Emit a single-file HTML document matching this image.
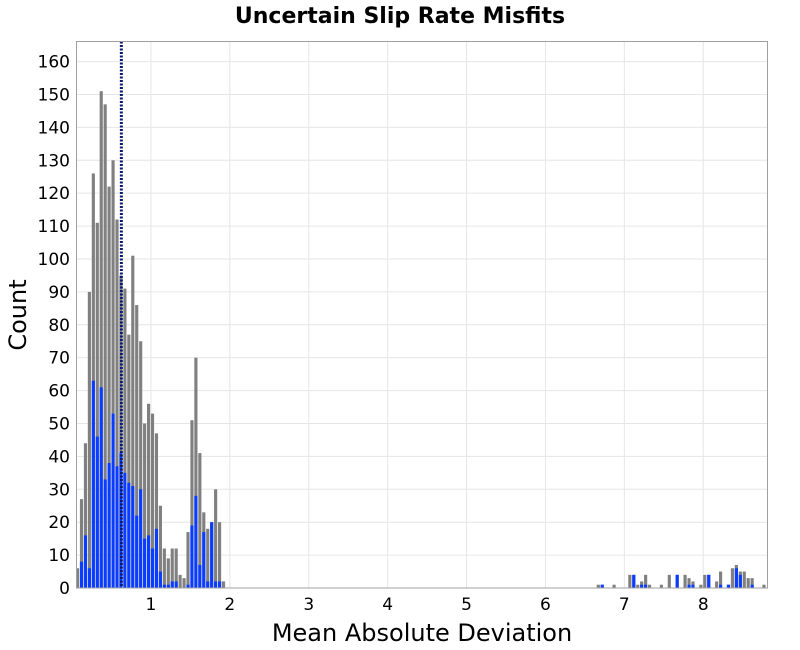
<!DOCTYPE html>
<html><head><meta charset="utf-8"><style>
body{margin:0;background:#fff;}
svg{display:block;font-family:"DejaVu Sans","Liberation Sans",sans-serif;}
</style></head><body>
<svg id="chart" width="800" height="650">
<text x="400" y="23" text-anchor="middle" font-size="22" font-weight="bold">Uncertain Slip Rate Misfits</text>
<g id="grid"></g><g id="bars"></g><g id="axes"></g>
<text x="422" y="641" text-anchor="middle" font-size="24">Mean Absolute Deviation</text>
<text transform="translate(26,315) rotate(-90)" text-anchor="middle" font-size="24">Count</text>
</svg>
<script>
const binStarts = [0.05,0.10,0.15,0.20,0.25,0.30,0.35,0.40,0.45,0.50,0.55,0.60,0.65,0.70,0.75,0.80,0.85,0.90,0.95,1.00,1.05,1.10,1.15,1.20,1.25,1.30,1.35,1.40,1.45,1.50,1.55,1.60,1.65,1.70,1.75,1.80,1.85,1.90,
6.65,6.70,6.85,7.05,7.10,7.15,7.20,7.25,7.30,7.45,7.55,7.65,7.75,7.80,7.85,7.95,8.00,8.05,8.15,8.20,8.30,8.35,8.40,8.45,8.50,8.55,8.60,8.75];
const grayCounts = [6,27,44,90,126,111,151,147,122,130,112,95,91,77,101,86,75,50,56,53,47,25,12,9,12,12,4,3,17,51,70,41,23,18,20,30,20,2,
1,1,1,4,4,1,2,4,1,1,4,4,4,3,2,1,4,4,2,5,1,6,7,5,5,3,3,1];
const blueCounts = [0,8,16,6,63,46,61,33,38,53,37,41,35,32,31,22,30,15,16,12,18,5,1,1,2,2,0,0,1,19,28,7,17,2,20,2,2,0,
0,1,0,0,4,0,1,1,0,0,0,4,0,1,1,0,0,4,0,1,1,0,6,4,0,0,1,0];
const binWidth = 0.05;
const meanLine = 0.625;
const xTicks = [1,2,3,4,5,6,7,8];
const yTicks = [0,10,20,30,40,50,60,70,80,90,100,110,120,130,140,150,160];

const NS="http://www.w3.org/2000/svg";
const L=76.5,R=767.5,T=41.5,B=588;
const xMin=0.0565,xMax=8.8145,yMax=166.1;
const X=v=>L+(v-xMin)/(xMax-xMin)*(R-L);
const Y=v=>B-v/yMax*(B-T);
function mk(tag,attrs,parent){const e=document.createElementNS(NS,tag);for(const k in attrs)e.setAttribute(k,attrs[k]);parent.appendChild(e);return e;}
const grid=document.getElementById('grid'),bars=document.getElementById('bars'),axes=document.getElementById('axes');
xTicks.forEach(t=>{
  const g=mk('line',{x1:X(t),x2:X(t),y1:T,y2:B,stroke:'#e6e6e6','stroke-width':1},grid);
  
  
  const lb=mk('text',{x:X(t),y:610,'text-anchor':'middle','font-size':17},axes);
  lb.textContent=t;
  
  
});
yTicks.forEach(t=>{
  const g=mk('line',{x1:L,x2:R,y1:Y(t),y2:Y(t),stroke:'#e6e6e6','stroke-width':1},grid);
  
  
  const lb=mk('text',{x:70,y:Y(t)+6,'text-anchor':'end','font-size':17},axes);
  lb.textContent=t;
  
  
});
binStarts.forEach((b,i)=>{
  const x0=X(b),x1=X(b+binWidth),w=Math.max(1,x1-x0-0.8);
  if(grayCounts[i]>0){
    const r=mk('rect',{x:x0,y:Y(grayCounts[i]),width:w,height:B-Y(grayCounts[i]),fill:'#808080'},bars);
    
    
  }
  if(blueCounts[i]>0){
    const r=mk('rect',{x:x0,y:Y(blueCounts[i]),width:w,height:B-Y(blueCounts[i]),fill:'#0a3cff'},bars);
    
    
  }
});
const ml=mk('line',{x1:X(meanLine),x2:X(meanLine),y1:T,y2:B,stroke:'#0a1a6e','stroke-width':3,'stroke-dasharray':'2,1.5'},bars);


const fr=mk('rect',{x:L,y:T,width:R-L,height:B-T,fill:'none',stroke:'#a0a0a0','stroke-width':1},axes);


</script>
</body></html>
